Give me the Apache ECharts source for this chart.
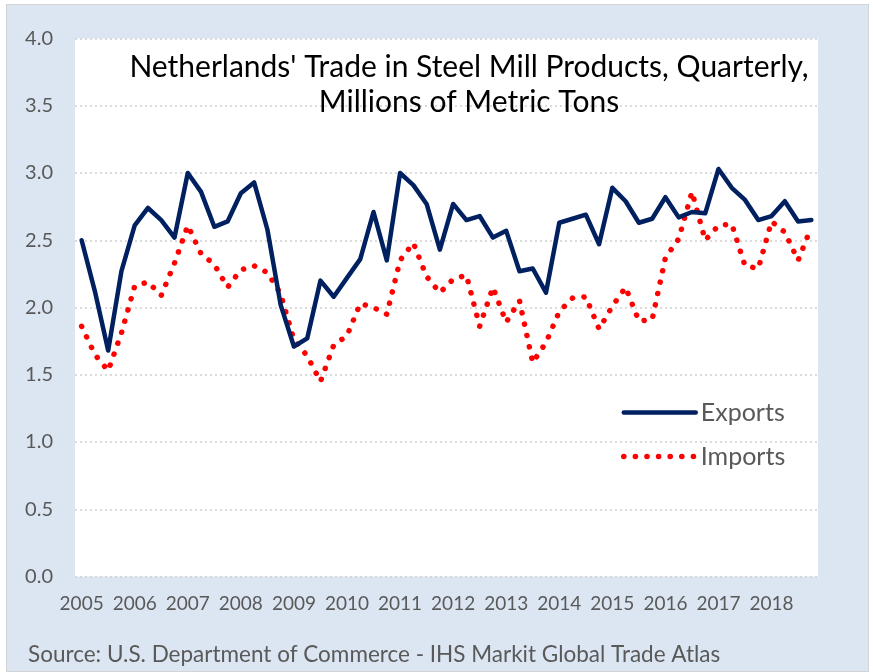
<!DOCTYPE html>
<html>
<head>
<meta charset="utf-8">
<script src="https://cdn.jsdelivr.net/npm/echarts@6/dist/echarts.min.js"></script>
<style>
html, body { margin: 0; padding: 0; background: #ffffff; }
#frame { position: absolute; left: 6px; top: 4px; width: 861px; height: 666px; background: #dce6f2; border: 1px solid #d4d4d4; }
#chart { position: absolute; left: 0; top: 0; width: 873px; height: 672px; }
</style>
</head>
<body>
<div id="frame"></div>
<div id="chart"></div>
<script>
// ---- data ----
const years = ['2005','2006','2007','2008','2009','2010','2011','2012','2013','2014','2015','2016','2017','2018'];
const quarters = ['Q1','Q2','Q3','Q4'];
const exportsData = [
  2.50, 2.12, 1.68, 2.27, 2.61, 2.74, 2.65, 2.52,
  3.00, 2.86, 2.60, 2.64, 2.85, 2.93, 2.58, 2.02,
  1.71, 1.77, 2.20, 2.08, 2.22, 2.36, 2.71, 2.35,
  3.00, 2.91, 2.77, 2.43, 2.77, 2.65, 2.68, 2.52,
  2.57, 2.27, 2.29, 2.11, 2.63, 2.66, 2.69, 2.47,
  2.89, 2.79, 2.63, 2.66, 2.82, 2.67, 2.71, 2.70,
  3.03, 2.89, 2.80, 2.65, 2.68, 2.79, 2.64, 2.65
];
const importsData = [
  1.86, 1.65, 1.53, 1.81, 2.16, 2.19, 2.09, 2.33,
  2.61, 2.40, 2.32, 2.15, 2.28, 2.31, 2.26, 2.10,
  1.76, 1.64, 1.45, 1.72, 1.79, 2.03, 2.00, 1.95,
  2.35, 2.48, 2.23, 2.11, 2.21, 2.24, 1.86, 2.15,
  1.89, 2.05, 1.59, 1.74, 1.97, 2.07, 2.08, 1.84,
  2.01, 2.15, 1.90, 1.91, 2.37, 2.51, 2.86, 2.50,
  2.61, 2.62, 2.31, 2.29, 2.64, 2.56, 2.35, 2.60
];
const yTicks = { min: 0, max: 4, interval: 0.5 };
const titleText = "Netherlands' Trade in Steel Mill Products, Quarterly,\nMillions of Metric Tons";
const sourceText = 'Source: U.S. Department of Commerce - IHS Markit Global Trade Atlas';

const categories = [];
years.forEach(y => quarters.forEach(q => categories.push(y + ' ' + q)));

const chart = echarts.init(document.getElementById('chart'), null, { renderer: 'canvas' });
const fontFam = 'Lato, "Open Sans", sans-serif';
const exportsLine = { color: '#002060', width: 4.5, join: 'round', cap: 'round' };
const importsLine = { color: '#ff0000', width: 5.5, type: [0.1, 11.5], cap: 'round', join: 'round' };
chart.setOption({
  backgroundColor: 'transparent',
  animation: false,
  title: {
    text: titleText,
    left: 464,
    top: 45,
    textAlign: 'center',
    textStyle: { fontFamily: fontFam, fontSize: 30, fontWeight: 'normal', color: '#000000', lineHeight: 35 }
  },
  grid: {
    left: 75, right: 55, top: 38.5, bottom: 95.5,
    show: true, backgroundColor: '#ffffff', borderWidth: 0
  },
  legend: {
    orient: 'vertical',
    left: 616,
    top: 395,
    itemWidth: 72,
    itemHeight: 14,
    itemGap: 19,
    itemStyle: { color: 'transparent', borderWidth: 0, opacity: 0 },
    textStyle: { fontFamily: fontFam, fontSize: 25, color: '#595959' },
    data: [
      { name: 'Exports', lineStyle: exportsLine },
      { name: 'Imports', lineStyle: importsLine }
    ]
  },
  xAxis: {
    type: 'category',
    data: categories,
    boundaryGap: true,
    axisLine: { show: false },
    axisTick: { show: false },
    axisLabel: {
      interval: 3,
      margin: 18,
      fontFamily: fontFam,
      fontSize: 19,
      color: '#595959',
      formatter: v => v.slice(0, 4)
    },
    splitLine: { show: false }
  },
  yAxis: {
    type: 'value',
    min: yTicks.min, max: yTicks.max, interval: yTicks.interval,
    axisLine: { show: false },
    axisTick: { show: false },
    axisLabel: {
      margin: 22,
      fontFamily: fontFam,
      fontSize: 20,
      color: '#595959',
      formatter: v => v.toFixed(1)
    },
    splitLine: { show: true, lineStyle: { color: '#d0d0d0', width: 1.5, type: [2, 3] } }
  },
  series: [
    {
      name: 'Exports',
      type: 'line',
      data: exportsData,
      symbol: 'none',
      showSymbol: false,
      lineStyle: exportsLine,
      itemStyle: { color: '#002060' },
      z: 3
    },
    {
      name: 'Imports',
      type: 'line',
      data: importsData,
      symbol: 'none',
      showSymbol: false,
      lineStyle: importsLine,
      itemStyle: { color: '#ff0000' },
      z: 2
    }
  ],
  graphic: [
    {
      type: 'text',
      left: 28,
      top: 643,
      style: { text: sourceText, fontFamily: fontFam, fontSize: 22.5, fill: '#595959' }
    }
  ]
});
</script>
</body>
</html>
